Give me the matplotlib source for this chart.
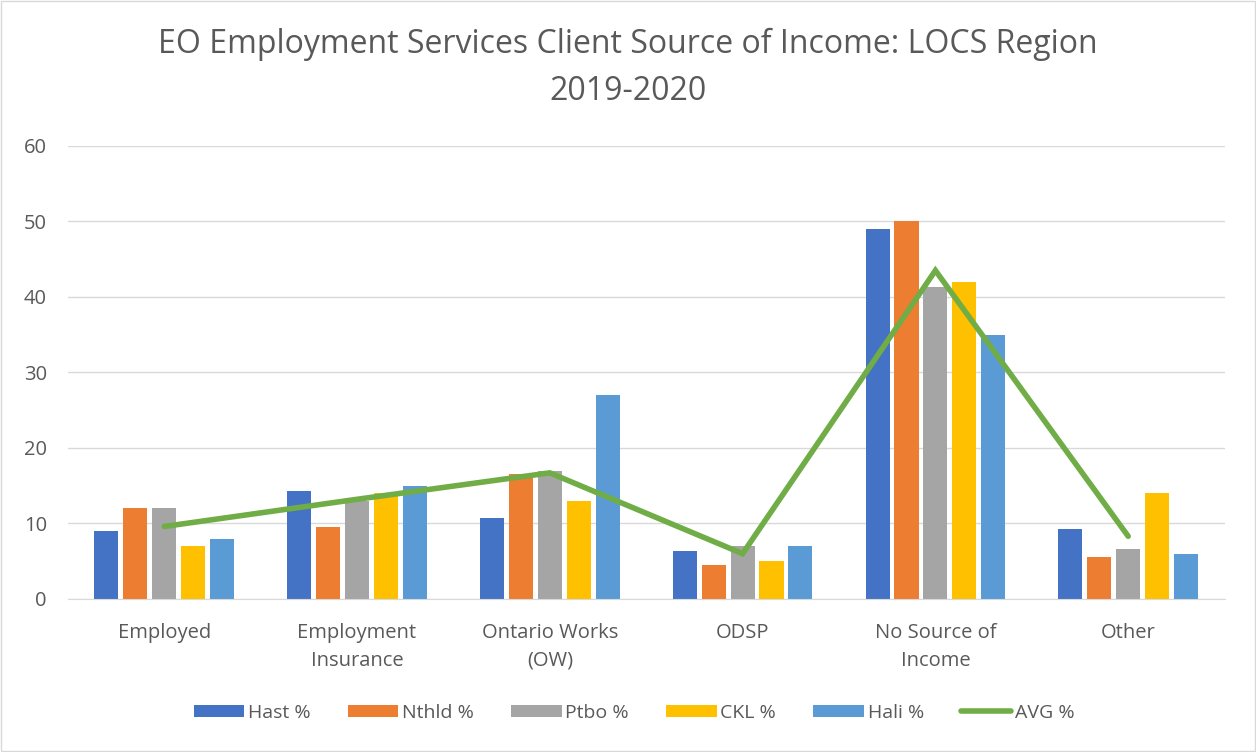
import matplotlib
matplotlib.use("Agg")
import matplotlib.pyplot as plt
import numpy as np

categories = ["Employed", "Employment\nInsurance", "Ontario Works\n(OW)", "ODSP", "No Source of\nIncome", "Other"]
hast = [9, 14.3, 10.7, 6.3, 49, 9.3]
nthld = [12, 9.5, 16.5, 4.5, 50, 5.5]
ptbo = [12, 13, 17, 7, 41.3, 6.6]
ckl = [7, 14, 13, 5, 42, 14]
hali = [8, 15, 27, 7, 35, 6]
avg = [9.6, 13.2, 16.7, 6.0, 43.5, 8.3]

series = [("Hast %", hast, "#4472C4"), ("Nthld %", nthld, "#ED7D31"),
          ("Ptbo %", ptbo, "#A5A5A5"), ("CKL %", ckl, "#FFC000"),
          ("Hali %", hali, "#5B9BD5")]

plt.rcParams['font.family'] = ['Open Sans', 'DejaVu Sans']
txt = "#595959"

fig = plt.figure(figsize=(12.56, 7.52), dpi=100)
ax = fig.add_axes([0.054, 0.2035, 0.921, 0.6025])
x = np.arange(len(categories))
pitch = 0.15
w = 0.125
handles = []
for i, (name, vals, col) in enumerate(series):
    b = ax.bar(x + (i - 2) * pitch, vals, width=w, color=col, label=name, zorder=2)
    handles.append(b)
ln, = ax.plot(x, avg, color="#70AD47", lw=4, label="AVG %", zorder=3, solid_capstyle='round', solid_joinstyle='miter')
handles.append(ln)

ax.set_xlim(-0.5, len(categories) - 0.5)
ax.set_ylim(0, 60)
ax.set_yticks(range(0, 61, 10))
ax.yaxis.grid(True, color="#D9D9D9", lw=1, zorder=0)
ax.set_axisbelow(True)
for s in ["top", "right", "left"]:
    ax.spines[s].set_visible(False)
ax.spines["bottom"].set_color("#D9D9D9")
ax.tick_params(axis="both", length=0, colors=txt, labelsize=14.5)
ax.tick_params(axis="y", pad=15)
ax.tick_params(axis="x", pad=17)
ax.set_xticks(x)
ax.set_xticklabels(categories, linespacing=1.55)

fig.text(0.5, 0.9095, "EO Employment Services Client Source of Income: LOCS Region\n2019-2020",
         ha="center", va="center", fontsize=23, color=txt, linespacing=1.57)

leg = fig.legend(handles, [h.get_label() for h in handles], loc="center", bbox_to_anchor=(0.505, 0.052), ncol=6, frameon=False,
                 fontsize=14, labelcolor=txt, handlelength=2.6, handleheight=0.6, columnspacing=1.9, handletextpad=0.2)

fig.patches.append(plt.Rectangle((0.001, 0.001), 0.998, 0.998, transform=fig.transFigure,
                                 fill=False, edgecolor="#D9D9D9", lw=1))
fig.savefig("out.png", dpi=100)
